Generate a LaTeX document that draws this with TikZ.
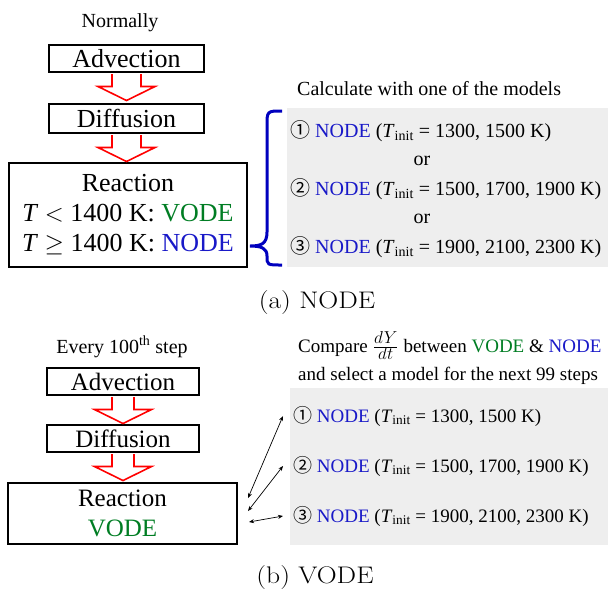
\documentclass[tikz,border=0pt]{standalone}
\usepackage{fontspec}
\newfontfamily\tnr{Liberation Serif}
\newfontfamily\circfont{Noto Sans CJK JP}
\usetikzlibrary{positioning,arrows.meta}

\definecolor{vodegreen}{RGB}{0,125,35}
\definecolor{nodeblue}{RGB}{25,25,200}
\definecolor{bracecol}{RGB}{0,0,190}
\definecolor{panelgray}{RGB}{238,238,238}

\newcommand{\vode}{\textcolor{vodegreen}{VODE}}
\newcommand{\nodem}{\textcolor{nodeblue}{NODE}}
\newcommand{\tin}{\textit{T}\textsubscript{init}}

\begin{document}
\begin{tikzpicture}[x=1pt, y=-1pt,
  stepbox/.style={draw, line width=2pt, inner sep=0pt, align=center,
    font=\tnr\fontsize{26}{30}\selectfont},
  hollow/.style={draw=red, line width=1.6pt, line join=miter},
  note/.style={font=\tnr\fontsize{20}{24}\selectfont, inner sep=0pt, anchor=base west},
  noteb/.style={note, font=\tnr\fontsize{19}{23}\selectfont},
  subcap/.style={font=\fontsize{24}{28}\selectfont, inner sep=0pt, anchor=base},
  twohead/.style={{Stealth[length=5pt,width=4pt]}-{Stealth[length=5pt,width=4pt]}, line width=0.7pt}]

  \useasboundingbox (0,0) rectangle (609,598);

  % (a) normal step
  \node[note, anchor=base] (normal) at (120,27) {Normally};
  \node[stepbox, minimum width=155, minimum height=27] (adv) at (126.5,58.5) {Advection};
  \node[stepbox, minimum width=155, minimum height=29] (dif) at (126.5,118.5) {Diffusion};
  \node[stepbox, minimum width=238, minimum height=104] (react) at (128,215)
    {Reaction\\ \textit{T} $<$ 1400 K: \vode\\ \textit{T} $\geq$ 1400 K: \nodem};

  % models, panel a
  \fill[panelgray] (287,108) rectangle (608,267);
  \node[note] (calc) at (297,95) {Calculate with one of the models};
  \node[note] (a1) at (290,137) {{\circfont ①} \nodem{} (\tin{} = 1300, 1500 K)};
  \node[note, anchor=base] (or1) at (422,165) {or};
  \node[note] (a2) at (290,195) {{\circfont ②} \nodem{} (\tin{} = 1500, 1700, 1900 K)};
  \node[note, anchor=base] (or2) at (422,223) {or};
  \node[note] (a3) at (290,253) {{\circfont ③} \nodem{} (\tin{} = 1900, 2100, 2300 K)};

  \draw[bracecol, line width=3pt] (282,111) .. controls (267,111) .. (267,126) -- (267,232)
    .. controls (267,244) and (261,246) .. (250,246)
    .. controls (261,246) and (267,248) .. (267,256)
    .. controls (267,265) .. (282,265);

  \node[subcap] (capa) at (317,308) {\scalebox{1.15}[1]{(a) NODE}};

  % (b) every 100th step
  \node[note, anchor=base] (every) at (122,353) {Every 100\textsuperscript{th} step};
  \node[stepbox, minimum width=152, minimum height=27, font=\tnr\fontsize{25}{30}\selectfont] (advb) at (123,381.5) {Advection};
  \node[stepbox, minimum width=152, minimum height=27, font=\tnr\fontsize{25}{30}\selectfont] (difb) at (123,438.5) {Diffusion};
  \node[stepbox, minimum width=229, minimum height=61, font=\tnr\fontsize{25}{30}\selectfont] (reactb) at (122.5,513.5)
    {Reaction\\ \vode};

  % models, panel b
  \fill[panelgray] (290,388) rectangle (608,545);
  \node[noteb] (cmp) at (298,352) {Compare \scalebox{1.2}{$\frac{dY}{dt}$} between \vode{} \& \nodem};
  \node[noteb] (sel) at (298,380) {and select a model for the next 99 steps};
  \node[noteb] (b1) at (293,422) {{\circfont ①} \nodem{} (\tin{} = 1300, 1500 K)};
  \node[noteb] (b2) at (293,472) {{\circfont ②} \nodem{} (\tin{} = 1500, 1700, 1900 K)};
  \node[noteb] (b3) at (293,522) {{\circfont ③} \nodem{} (\tin{} = 1900, 2100, 2300 K)};

  \coordinate (r1) at (248,498);
  \coordinate (r2) at (248,511);
  \coordinate (r3) at (249,522);
  \draw[twohead] (r1) -- ([xshift=-10pt]b1.west);
  \draw[twohead] (r2) -- ([xshift=-10pt]b2.west);
  \draw[twohead] (r3) -- ([xshift=-10pt]b3.west);

  \node[subcap] (capb) at (315,583) {\scalebox{1.15}[1]{(b) VODE}};

  % red block arrows
  \foreach \src/\sh in {adv/14.5, dif/14.5, advb/11, difb/11}
    \draw[hollow, shift={(\src.south)}] (-\sh,1) -- (-\sh,13.5) -- (-28.5,13.5) -- (0,27.5)
      -- (28.5,13.5) -- (\sh,13.5) -- (\sh,1);

\end{tikzpicture}
\end{document}
